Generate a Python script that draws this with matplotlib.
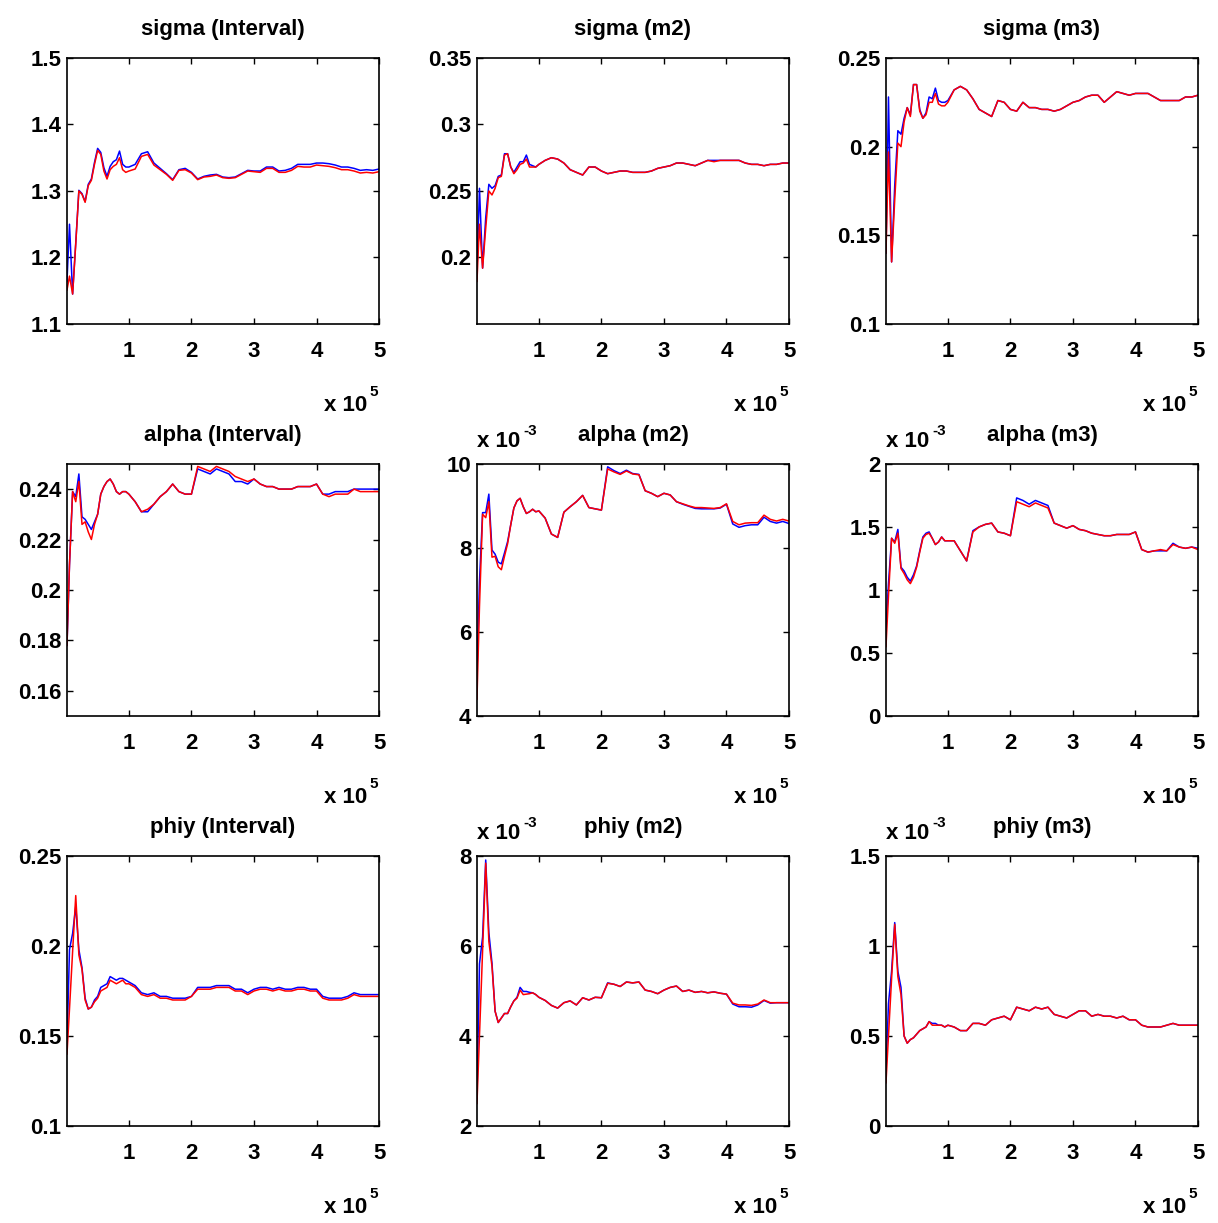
import numpy as np
import matplotlib
matplotlib.use('Agg')
import matplotlib.pyplot as plt

plt.rcParams['font.family'] = ['Liberation Sans Narrow', 'Liberation Sans', 'DejaVu Sans']
plt.rcParams['font.weight'] = 'bold'

# iteraciones donde se guardaron las estimaciones
iters = np.array([1000] + list(range(5000, 100001, 5000)) + list(range(110000, 500001, 10000)))

# sigma
sigma_int_azul = [1.164, 1.250, 1.145, 1.222, 1.301, 1.296, 1.284, 1.310, 1.318, 1.343, 1.364, 1.358, 1.335, 1.322, 1.337, 1.344, 1.347, 1.360, 1.340, 1.336, 1.336,
                  1.340, 1.356, 1.359, 1.342, 1.334, 1.326, 1.317, 1.332, 1.334, 1.328,
                  1.318, 1.322, 1.324, 1.325, 1.321, 1.320, 1.321, 1.326, 1.331, 1.330,
                  1.330, 1.336, 1.336, 1.330, 1.331, 1.334, 1.340, 1.340, 1.340, 1.342,
                  1.342, 1.341, 1.339, 1.336, 1.336, 1.334, 1.331, 1.332, 1.331, 1.333]
sigma_int_rojo = [1.151, 1.172, 1.145, 1.220, 1.300, 1.295, 1.283, 1.308, 1.316, 1.340, 1.361, 1.355, 1.330, 1.318, 1.332, 1.337, 1.340, 1.350, 1.332, 1.328, 1.330,
                  1.333, 1.352, 1.355, 1.339, 1.332, 1.325, 1.316, 1.331, 1.332, 1.327,
                  1.317, 1.321, 1.322, 1.324, 1.320, 1.319, 1.320, 1.325, 1.330, 1.329,
                  1.328, 1.334, 1.334, 1.328, 1.328, 1.331, 1.337, 1.336, 1.336, 1.339,
                  1.338, 1.337, 1.335, 1.332, 1.332, 1.330, 1.327, 1.328, 1.327, 1.329]

sigma_m2_azul = [0.190, 0.252, 0.192, 0.230, 0.255, 0.252, 0.254, 0.261, 0.262, 0.278, 0.278, 0.268, 0.264, 0.268, 0.272, 0.272, 0.277, 0.270, 0.269, 0.268, 0.270,
                 0.273, 0.275, 0.274, 0.271, 0.266, 0.264, 0.262, 0.268, 0.268, 0.265,
                 0.263, 0.264, 0.265, 0.265, 0.264, 0.264, 0.264, 0.265, 0.267, 0.268,
                 0.269, 0.271, 0.271, 0.270, 0.269, 0.271, 0.273, 0.273, 0.273, 0.273,
                 0.273, 0.273, 0.271, 0.270, 0.270, 0.269, 0.270, 0.270, 0.271, 0.271]
sigma_m2_rojo = [0.182, 0.225, 0.192, 0.222, 0.250, 0.247, 0.252, 0.260, 0.261, 0.277, 0.278, 0.268, 0.263, 0.266, 0.270, 0.271, 0.274, 0.268, 0.268, 0.268, 0.270,
                 0.273, 0.275, 0.274, 0.271, 0.266, 0.264, 0.262, 0.268, 0.268, 0.265,
                 0.263, 0.264, 0.265, 0.265, 0.264, 0.264, 0.264, 0.265, 0.267, 0.268,
                 0.269, 0.271, 0.271, 0.270, 0.269, 0.271, 0.273, 0.272, 0.273, 0.273,
                 0.273, 0.273, 0.271, 0.270, 0.270, 0.269, 0.270, 0.270, 0.271, 0.271]

sigma_m3_azul = [0.140, 0.228, 0.135, 0.178, 0.209, 0.207, 0.216, 0.222, 0.218, 0.235, 0.235, 0.221, 0.216, 0.219, 0.228, 0.227, 0.233, 0.226, 0.225, 0.225, 0.226,
                 0.232, 0.234, 0.232, 0.227, 0.221, 0.219, 0.217, 0.226, 0.225, 0.221,
                 0.220, 0.225, 0.222, 0.222, 0.221, 0.221, 0.220, 0.221, 0.223, 0.225,
                 0.226, 0.228, 0.229, 0.229, 0.225, 0.228, 0.231, 0.230, 0.229, 0.230,
                 0.230, 0.230, 0.228, 0.226, 0.226, 0.226, 0.226, 0.228, 0.228, 0.229]
sigma_m3_rojo = [0.140, 0.197, 0.135, 0.170, 0.202, 0.200, 0.214, 0.222, 0.217, 0.235, 0.235, 0.220, 0.216, 0.218, 0.225, 0.225, 0.230, 0.224, 0.223, 0.223, 0.225,
                 0.232, 0.234, 0.232, 0.227, 0.221, 0.219, 0.217, 0.226, 0.225, 0.221,
                 0.220, 0.225, 0.222, 0.222, 0.221, 0.221, 0.220, 0.221, 0.223, 0.225,
                 0.226, 0.228, 0.229, 0.229, 0.225, 0.228, 0.231, 0.230, 0.229, 0.230,
                 0.230, 0.230, 0.228, 0.226, 0.226, 0.226, 0.226, 0.228, 0.228, 0.229]

# alpha (m2 y m3 en unidades de 1e-3)
alpha_int_azul = [0.178, 0.210, 0.239, 0.237, 0.246, 0.229, 0.228, 0.226, 0.224, 0.227, 0.230, 0.238, 0.241, 0.243, 0.244, 0.242, 0.239, 0.238, 0.239, 0.239, 0.238,
                  0.235, 0.231, 0.231, 0.234, 0.237, 0.239, 0.242, 0.239, 0.238, 0.238,
                  0.248, 0.247, 0.246, 0.248, 0.247, 0.246, 0.243, 0.243, 0.242, 0.244,
                  0.242, 0.241, 0.241, 0.240, 0.240, 0.240, 0.241, 0.241, 0.241, 0.242,
                  0.238, 0.238, 0.239, 0.239, 0.239, 0.240, 0.240, 0.240, 0.240, 0.240]
alpha_int_rojo = [0.178, 0.210, 0.239, 0.235, 0.243, 0.226, 0.227, 0.223, 0.220, 0.226, 0.230, 0.238, 0.241, 0.243, 0.244, 0.242, 0.239, 0.238, 0.239, 0.239, 0.238,
                  0.235, 0.231, 0.232, 0.234, 0.237, 0.239, 0.242, 0.239, 0.238, 0.238,
                  0.249, 0.248, 0.247, 0.249, 0.248, 0.247, 0.245, 0.244, 0.243, 0.244,
                  0.242, 0.241, 0.241, 0.240, 0.240, 0.240, 0.241, 0.241, 0.241, 0.242,
                  0.238, 0.237, 0.238, 0.238, 0.238, 0.240, 0.239, 0.239, 0.239, 0.239]

alpha_m2_azul = [5.0, 7.2, 8.84, 8.84, 9.28, 7.95, 7.85, 7.66, 7.62, 7.88, 8.15, 8.55, 8.95, 9.12, 9.18, 8.98, 8.82, 8.86, 8.92, 8.86, 8.88,
                 8.71, 8.33, 8.25, 8.85, 8.98, 9.10, 9.25, 8.96, 8.93, 8.90,
                 9.93, 9.84, 9.77, 9.85, 9.77, 9.75, 9.36, 9.30, 9.22, 9.30,
                 9.26, 9.10, 9.04, 8.99, 8.94, 8.93, 8.93, 8.93, 8.95, 9.04,
                 8.57, 8.49, 8.53, 8.55, 8.55, 8.73, 8.63, 8.59, 8.63, 8.58]
alpha_m2_rojo = [4.4, 6.6, 8.80, 8.72, 9.10, 7.78, 7.80, 7.55, 7.48, 7.80, 8.10, 8.55, 8.95, 9.12, 9.18, 8.98, 8.82, 8.86, 8.92, 8.86, 8.88,
                 8.71, 8.33, 8.25, 8.85, 8.98, 9.10, 9.25, 8.96, 8.93, 8.90,
                 9.88, 9.81, 9.75, 9.83, 9.76, 9.74, 9.36, 9.30, 9.22, 9.30,
                 9.26, 9.10, 9.05, 9.00, 8.96, 8.96, 8.95, 8.94, 8.96, 9.05,
                 8.63, 8.55, 8.59, 8.60, 8.60, 8.78, 8.68, 8.64, 8.68, 8.64]

alpha_m3_azul = [0.70, 1.05, 1.41, 1.38, 1.48, 1.18, 1.15, 1.10, 1.07, 1.12, 1.19, 1.31, 1.42, 1.45, 1.46, 1.41, 1.36, 1.38, 1.42, 1.39, 1.39,
                 1.39, 1.31, 1.23, 1.47, 1.50, 1.52, 1.53, 1.46, 1.45, 1.43,
                 1.73, 1.71, 1.68, 1.71, 1.69, 1.67, 1.53, 1.51, 1.49, 1.51,
                 1.48, 1.47, 1.45, 1.44, 1.43, 1.43, 1.44, 1.44, 1.44, 1.46,
                 1.32, 1.30, 1.31, 1.31, 1.31, 1.37, 1.34, 1.33, 1.34, 1.33]
alpha_m3_rojo = [0.55, 0.95, 1.41, 1.37, 1.45, 1.17, 1.13, 1.08, 1.05, 1.10, 1.18, 1.30, 1.41, 1.44, 1.45, 1.41, 1.36, 1.38, 1.42, 1.39, 1.39,
                 1.39, 1.31, 1.23, 1.46, 1.50, 1.52, 1.53, 1.46, 1.45, 1.43,
                 1.70, 1.68, 1.66, 1.69, 1.67, 1.65, 1.53, 1.51, 1.49, 1.51,
                 1.48, 1.47, 1.45, 1.44, 1.43, 1.43, 1.44, 1.44, 1.44, 1.46,
                 1.32, 1.30, 1.31, 1.32, 1.31, 1.36, 1.34, 1.33, 1.34, 1.32]

# phiy (m2 y m3 en unidades de 1e-3)
phiy_int_azul = [0.145, 0.198, 0.207, 0.222, 0.198, 0.188, 0.171, 0.165, 0.166, 0.170, 0.172, 0.177, 0.178, 0.179, 0.183, 0.182, 0.181, 0.182, 0.182, 0.181, 0.180,
                 0.178, 0.174, 0.173, 0.174, 0.172, 0.172, 0.171, 0.171, 0.171, 0.172,
                 0.177, 0.177, 0.177, 0.178, 0.178, 0.178, 0.176, 0.176, 0.174, 0.176,
                 0.177, 0.177, 0.176, 0.177, 0.176, 0.176, 0.177, 0.177, 0.176, 0.176,
                 0.172, 0.171, 0.171, 0.171, 0.172, 0.174, 0.173, 0.173, 0.173, 0.173]
phiy_int_rojo = [0.140, 0.165, 0.197, 0.228, 0.195, 0.187, 0.170, 0.165, 0.166, 0.169, 0.171, 0.175, 0.176, 0.177, 0.181, 0.180, 0.179, 0.180, 0.181, 0.179, 0.179,
                 0.177, 0.173, 0.172, 0.173, 0.171, 0.171, 0.170, 0.170, 0.170, 0.172,
                 0.176, 0.176, 0.176, 0.177, 0.177, 0.177, 0.175, 0.175, 0.173, 0.175,
                 0.176, 0.176, 0.175, 0.176, 0.175, 0.175, 0.176, 0.176, 0.175, 0.175,
                 0.171, 0.170, 0.170, 0.170, 0.171, 0.173, 0.172, 0.172, 0.172, 0.172]

phiy_m2_azul = [2.6, 5.6, 6.2, 7.91, 6.3, 5.62, 4.55, 4.30, 4.40, 4.50, 4.50, 4.65, 4.78, 4.86, 5.08, 4.99, 4.99, 4.97, 4.96, 4.92, 4.86,
                4.79, 4.68, 4.62, 4.74, 4.78, 4.69, 4.85, 4.80, 4.86, 4.85,
                5.18, 5.15, 5.10, 5.20, 5.18, 5.20, 5.02, 4.99, 4.94, 5.02,
                5.08, 5.11, 4.99, 5.02, 4.97, 4.99, 4.96, 4.98, 4.95, 4.93,
                4.71, 4.65, 4.65, 4.64, 4.69, 4.79, 4.73, 4.74, 4.74, 4.74]
phiy_m2_rojo = [2.5, 4.0, 5.9, 7.84, 6.1, 5.55, 4.55, 4.30, 4.40, 4.50, 4.50, 4.65, 4.78, 4.84, 5.02, 4.92, 4.93, 4.94, 4.96, 4.92, 4.86,
                4.79, 4.68, 4.62, 4.74, 4.78, 4.69, 4.85, 4.80, 4.86, 4.85,
                5.17, 5.15, 5.10, 5.20, 5.18, 5.20, 5.02, 4.99, 4.94, 5.02,
                5.08, 5.11, 4.99, 5.02, 4.97, 4.99, 4.96, 4.98, 4.95, 4.93,
                4.73, 4.69, 4.69, 4.68, 4.71, 4.80, 4.74, 4.74, 4.74, 4.74]

phiy_m3_azul = [0.30, 0.68, 0.86, 1.13, 0.86, 0.77, 0.50, 0.46, 0.48, 0.49, 0.51, 0.53, 0.54, 0.55, 0.58, 0.57, 0.57, 0.56, 0.56, 0.55, 0.56,
                0.55, 0.53, 0.53, 0.57, 0.57, 0.56, 0.59, 0.60, 0.61, 0.59,
                0.66, 0.65, 0.64, 0.66, 0.65, 0.66, 0.62, 0.61, 0.60, 0.62,
                0.64, 0.64, 0.61, 0.62, 0.61, 0.61, 0.60, 0.61, 0.59, 0.59,
                0.56, 0.55, 0.55, 0.55, 0.56, 0.57, 0.56, 0.56, 0.56, 0.56]
phiy_m3_rojo = [0.24, 0.50, 0.82, 1.12, 0.83, 0.73, 0.50, 0.46, 0.48, 0.49, 0.51, 0.53, 0.54, 0.55, 0.58, 0.56, 0.56, 0.56, 0.56, 0.55, 0.56,
                0.55, 0.53, 0.53, 0.57, 0.57, 0.56, 0.59, 0.60, 0.61, 0.59,
                0.66, 0.65, 0.64, 0.66, 0.65, 0.66, 0.62, 0.61, 0.60, 0.62,
                0.64, 0.64, 0.61, 0.62, 0.61, 0.61, 0.60, 0.61, 0.59, 0.59,
                0.56, 0.55, 0.55, 0.55, 0.56, 0.57, 0.56, 0.56, 0.56, 0.56]

titulos = ['sigma (Interval)', 'sigma (m2)', 'sigma (m3)',
           'alpha (Interval)', 'alpha (m2)', 'alpha (m3)',
           'phiy (Interval)', 'phiy (m2)', 'phiy (m3)']
azules = [sigma_int_azul, sigma_m2_azul, sigma_m3_azul,
          alpha_int_azul, alpha_m2_azul, alpha_m3_azul,
          phiy_int_azul, phiy_m2_azul, phiy_m3_azul]
rojos = [sigma_int_rojo, sigma_m2_rojo, sigma_m3_rojo,
         alpha_int_rojo, alpha_m2_rojo, alpha_m3_rojo,
         phiy_int_rojo, phiy_m2_rojo, phiy_m3_rojo]
limites = [(1.1, 1.5), (0.15, 0.35), (0.1, 0.25),
           (0.15, 0.25), (4, 10), (0, 2),
           (0.1, 0.25), (2, 8), (0, 1.5)]
yticks = [[1.1, 1.2, 1.3, 1.4, 1.5], [0.2, 0.25, 0.3, 0.35], [0.1, 0.15, 0.2, 0.25],
          [0.16, 0.18, 0.2, 0.22, 0.24], [4, 6, 8, 10], [0, 0.5, 1, 1.5, 2],
          [0.1, 0.15, 0.2, 0.25], [2, 4, 6, 8], [0, 0.5, 1, 1.5]]
escala_1e3 = [False, False, False, False, True, True, False, True, True]

fig = plt.figure(figsize=(12.18, 12.23), dpi=100)

lefts = [0.0550, 0.3916, 0.7274]
filas = [(0.7351, 0.2175), (0.4146, 0.2061), (0.0793, 0.2208)]

x = iters / 1e5
for i in range(9):
    fila, col = divmod(i, 3)
    ax = fig.add_axes([lefts[col], filas[fila][0], 0.2562, filas[fila][1]])
    ax.plot(x, azules[i], color=(0, 0, 1), lw=1.1)
    ax.plot(x, rojos[i], color=(1, 0, 0), lw=1.1)
    ax.set_xlim(x[0], 5)
    ax.set_ylim(*limites[i])
    ax.set_xticks([1, 2, 3, 4, 5])
    ax.set_xticklabels(['1', '2', '3', '4', '5'])
    ax.set_yticks(yticks[i])
    ax.set_yticklabels(['%g' % v for v in yticks[i]])
    ax.tick_params(direction='in', length=4, width=1, top=True, right=True, labelsize=16)
    ax.tick_params(axis='x', pad=12)
    ax.tick_params(axis='y', pad=4)
    for s in ax.spines.values():
        s.set_linewidth(1.2)
    ax.set_title(titulos[i], fontsize=16, fontweight='bold', pad=16.5)

    # x 10^5 abajo a la derecha
    ax.annotate('x 10', xy=(1, 0), xycoords='axes fraction', xytext=(-12, -87),
                textcoords='offset pixels', ha='right', va='baseline', fontsize=16)
    ax.annotate('5', xy=(1, 0), xycoords='axes fraction', xytext=(-10, -72),
                textcoords='offset pixels', ha='left', va='baseline', fontsize=11)
    if escala_1e3[i]:
        ax.annotate('x 10', xy=(0, 1), xycoords='axes fraction', xytext=(0, 17),
                    textcoords='offset pixels', ha='left', va='baseline', fontsize=16)
        ax.annotate('-3', xy=(0, 1), xycoords='axes fraction', xytext=(46, 29),
                    textcoords='offset pixels', ha='left', va='baseline', fontsize=11)

plt.savefig('out.png', dpi=100)
